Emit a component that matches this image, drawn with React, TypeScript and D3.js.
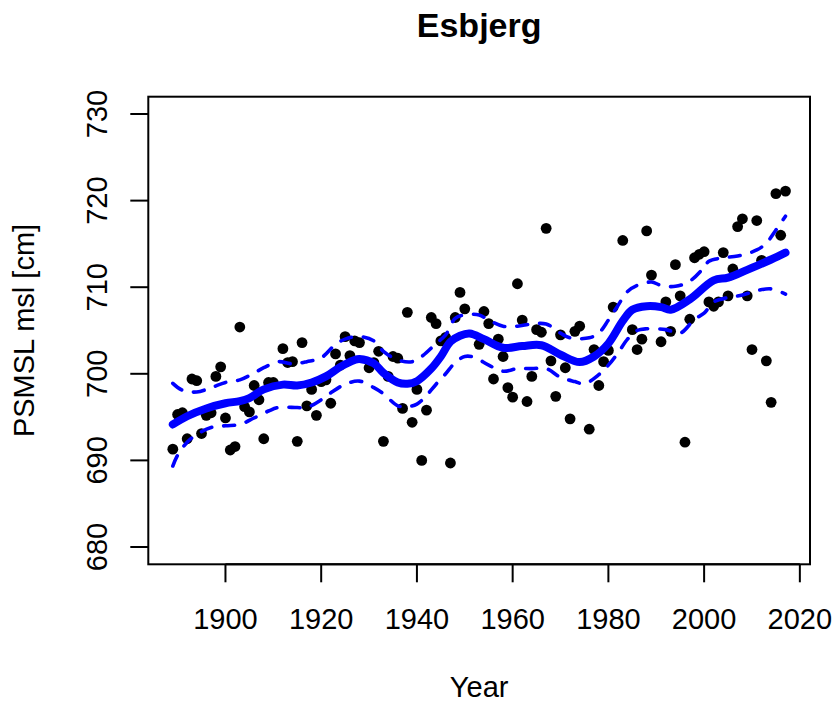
import React, { useEffect, useRef } from 'react';
import * as d3 from 'd3';

// annual mean sea level, Esbjerg
const pointYears = [
  1889, 1890, 1891, 1892, 1893, 1894, 1895, 1896, 1897, 1898, 1899, 1900,
  1901, 1902, 1903, 1904, 1905, 1906, 1907, 1908, 1909, 1910, 1912, 1913,
  1914, 1915, 1916, 1917, 1918, 1919, 1920, 1921, 1922, 1923, 1924, 1925,
  1926, 1927, 1928, 1930, 1931, 1932, 1933, 1934, 1935, 1936, 1937, 1938,
  1939, 1940, 1941, 1942, 1943, 1944, 1945, 1946, 1947, 1948, 1949, 1950,
  1953, 1954, 1955, 1956, 1957, 1958, 1959, 1960, 1961, 1962, 1963, 1964,
  1965, 1966, 1967, 1968, 1969, 1970, 1971, 1972, 1973, 1974, 1976, 1977,
  1978, 1979, 1980, 1981, 1983, 1985, 1986, 1987, 1988, 1989, 1991, 1992,
  1993, 1994, 1995, 1996, 1997, 1998, 1999, 2000, 2001, 2002, 2003, 2004,
  2005, 2006, 2007, 2008, 2009, 2010, 2011, 2012, 2013, 2014, 2015, 2016,
  2017,
];
const pointValues = [
  691.3, 695.3, 695.5, 692.5, 699.4, 699.2, 693.1, 695.2, 695.5, 699.7, 700.8, 694.9,
  691.2, 691.6, 705.4, 696.2, 695.6, 698.65, 697.0, 692.5, 699.0, 699.0, 702.9, 701.3,
  701.4, 692.2, 703.6, 696.3, 698.2, 695.2, 699.1, 699.3, 696.6, 702.3, 701.0, 704.3,
  702.1, 703.8, 703.6, 700.7, 701.3, 702.6, 692.2, 699.7, 702.0, 701.8, 696.0, 707.1,
  694.4, 698.2, 690.0, 695.8, 706.5, 705.8, 703.8, 704.2, 689.7, 706.5, 709.4, 707.5,
  703.4, 707.2, 705.8, 699.4, 704.0, 702.0, 698.4, 697.3, 710.4, 706.2, 696.8, 699.7,
  705.1, 704.8, 716.8, 701.5, 697.4, 704.5, 700.7, 694.8, 704.9, 705.5, 693.6, 702.8,
  698.65, 701.4, 702.7, 707.7, 715.4, 705.1, 702.8, 704.0, 716.5, 711.4, 703.7, 708.3,
  704.9, 712.6, 709.0, 692.1, 706.3, 713.4, 713.8, 714.1, 708.3, 707.8, 708.3, 714.0,
  709.0, 712.1, 717.0, 717.9, 709.0, 702.8, 717.7, 713.1, 701.5, 696.7, 720.8, 716.0,
  721.1,
];

// smoothed fit and its confidence band
const fitYears = [
  1889, 1892, 1896, 1900, 1903, 1905, 1908, 1912, 1915, 1918, 1921, 1924, 1927,
  1928, 1931, 1933, 1936, 1938, 1940, 1943, 1945, 1947, 1949, 1951, 1954, 1958,
  1962, 1966, 1970, 1974, 1977, 1980, 1983, 1985, 1988, 1991, 1993, 1997, 2002,
  2005, 2009, 2014, 2017,
];
const fitValues = [
  694.15, 695.1, 696.0, 696.6, 696.85, 697.2, 698.2, 698.75, 698.65, 699.0, 699.7, 700.8, 701.6,
  701.7, 701.2, 700.1, 699.0, 698.85, 699.15, 700.6, 702.0, 703.7, 704.4, 704.65, 704.0, 703.0,
  703.2, 703.3, 702.2, 701.35, 702.0, 703.5, 706.1, 707.4, 707.8, 707.7, 707.4, 708.6, 710.8,
  711.1, 712.0, 713.2, 714.0,
];

const upperYears = [
  1889, 1891, 1894, 1897, 1900, 1903, 1906, 1908, 1911, 1914, 1917, 1920, 1923,
  1925, 1928, 1931, 1933, 1936, 1939, 1941, 1944, 1946, 1948, 1950, 1953, 1955,
  1958, 1961, 1964, 1967, 1970, 1972, 1976, 1978, 1980, 1982, 1984, 1986, 1989,
  1991, 1994, 1997, 2000, 2001, 2004, 2007, 2011, 2013, 2015, 2017,
];
const upperValues = [
  698.9, 698.1, 697.9, 698.4, 699.0, 699.3, 700.1, 700.7, 701.4, 701.15, 701.4, 701.85, 703.4,
  704.0, 704.3, 703.8, 702.6, 701.6, 701.4, 702.0, 703.5, 704.5, 706.4, 706.8, 706.8, 706.2,
  705.5, 705.5, 705.75, 705.75, 704.7, 704.15, 704.15, 704.7, 706.2, 707.9, 709.5, 710.2, 710.6,
  710.2, 710.1, 710.7, 712.3, 713.0, 713.4, 713.6, 714.3, 715.1, 716.6, 718.2,
];

const lowerYears = [
  1889, 1890, 1892, 1894, 1897, 1900, 1903, 1906, 1909, 1911, 1915, 1917, 1920,
  1922, 1925, 1928, 1931, 1933, 1936, 1938, 1940, 1942, 1944, 1946, 1948, 1950,
  1952, 1955, 1958, 1961, 1964, 1967, 1970, 1973, 1975, 1978, 1980, 1982, 1984,
  1986, 1988, 1992, 1995, 1998, 2000, 2002, 2005, 2008, 2011, 2014, 2017,
];
const lowerValues = [
  689.35, 690.6, 692.1, 693.0, 693.8, 694.0, 694.15, 694.9, 695.7, 696.1, 696.1, 696.1, 697.0,
  697.8, 698.8, 699.15, 698.4, 697.7, 696.3, 696.2, 696.5, 697.5, 698.8, 700.0, 701.3, 702.0,
  701.9, 701.0, 700.3, 700.6, 700.6, 700.6, 699.6, 699.1, 698.85, 699.9, 701.0, 702.4, 704.0,
  705.0, 705.2, 705.1, 704.7, 706.3, 707.0, 708.3, 708.8, 709.1, 709.6, 709.8, 709.2,
];

const xTicks = [1900, 1920, 1940, 1960, 1980, 2000, 2020];
const yTicks = [680, 690, 700, 710, 720, 730];

const FONT = '"Liberation Sans", Arial, Helvetica, sans-serif';

const App: React.FC = () => {
  const ref = useRef<SVGSVGElement | null>(null);

  useEffect(() => {
    const svg = d3.select(ref.current);
    svg.selectAll('*').remove();

    const left = 148.3, right = 810, top = 96.7, bottom = 564.3;

    // R style 4% extension of the ranges
    const x = d3.scaleLinear().domain([1883.88, 2022.12]).range([left, right]);
    const y = d3.scaleLinear().domain([678, 732]).range([bottom, top]);

    svg.append('rect').attr('width', 836).attr('height', 706).attr('fill', '#fff');

    const line = d3.line<[number, number]>()
      .x(d => x(d[0]))
      .y(d => y(d[1]))
      .curve(d3.curveCatmullRom.alpha(0.5));

    const pts = pointYears.map((yr, i) => [yr, pointValues[i]] as [number, number]);

    svg.append('g')
      .selectAll('circle')
      .data(pts)
      .enter()
      .append('circle')
      .attr('cx', d => x(d[0]))
      .attr('cy', d => y(d[1]))
      .attr('r', 5.4)
      .attr('fill', '#000');

    const bands: [number[], number[]][] = [[upperYears, upperValues], [lowerYears, lowerValues]];
    bands.forEach(([yrs, vals]) => {
      svg.append('path')
        .attr('d', line(yrs.map((yr, i) => [yr, vals[i]] as [number, number])))
        .attr('fill', 'none')
        .attr('stroke', '#0000ff')
        .attr('stroke-width', 3.6)
        .attr('stroke-dasharray', '11 12')
        .attr('stroke-linecap', 'round');
    });

    svg.append('path')
      .attr('d', line(fitYears.map((yr, i) => [yr, fitValues[i]] as [number, number])))
      .attr('fill', 'none')
      .attr('stroke', '#0000ff')
      .attr('stroke-width', 8)
      .attr('stroke-linecap', 'round')
      .attr('stroke-linejoin', 'round');

    // frame
    svg.append('rect')
      .attr('x', left).attr('y', top)
      .attr('width', right - left).attr('height', bottom - top)
      .attr('fill', 'none').attr('stroke', '#000').attr('stroke-width', 2);

    const tickLen = 18;

    const gx = svg.append('g');
    gx.append('line')
      .attr('x1', x(xTicks[0])).attr('x2', x(xTicks[xTicks.length - 1]))
      .attr('y1', bottom).attr('y2', bottom)
      .attr('stroke', '#000').attr('stroke-width', 2);
    xTicks.forEach(t => {
      gx.append('line')
        .attr('x1', x(t)).attr('x2', x(t))
        .attr('y1', bottom).attr('y2', bottom + tickLen)
        .attr('stroke', '#000').attr('stroke-width', 2);
      gx.append('text')
        .attr('x', x(t)).attr('y', 629)
        .attr('text-anchor', 'middle')
        .attr('font-family', FONT).attr('font-size', 29)
        .text(t);
    });

    const gy = svg.append('g');
    yTicks.forEach(t => {
      gy.append('line')
        .attr('x1', left - tickLen).attr('x2', left)
        .attr('y1', y(t)).attr('y2', y(t))
        .attr('stroke', '#000').attr('stroke-width', 2);
      gy.append('text')
        .attr('transform', `translate(107,${y(t)}) rotate(-90)`)
        .attr('text-anchor', 'middle')
        .attr('font-family', FONT).attr('font-size', 29)
        .text(t);
    });

    svg.append('text')
      .attr('x', (left + right) / 2).attr('y', 37)
      .attr('text-anchor', 'middle')
      .attr('font-family', FONT).attr('font-size', 34).attr('font-weight', 'bold')
      .text('Esbjerg');

    svg.append('text')
      .attr('x', (left + right) / 2).attr('y', 697)
      .attr('text-anchor', 'middle')
      .attr('font-family', FONT).attr('font-size', 29)
      .text('Year');

    svg.append('text')
      .attr('transform', `translate(34,${(top + bottom) / 2}) rotate(-90)`)
      .attr('text-anchor', 'middle')
      .attr('font-family', FONT).attr('font-size', 29)
      .text('PSMSL msl [cm]');
  }, []);

  return (
    <svg
      ref={ref}
      width={836}
      height={706}
      style={{ position: 'absolute', left: 0, top: 0 }}
    />
  );
};

export default App;
